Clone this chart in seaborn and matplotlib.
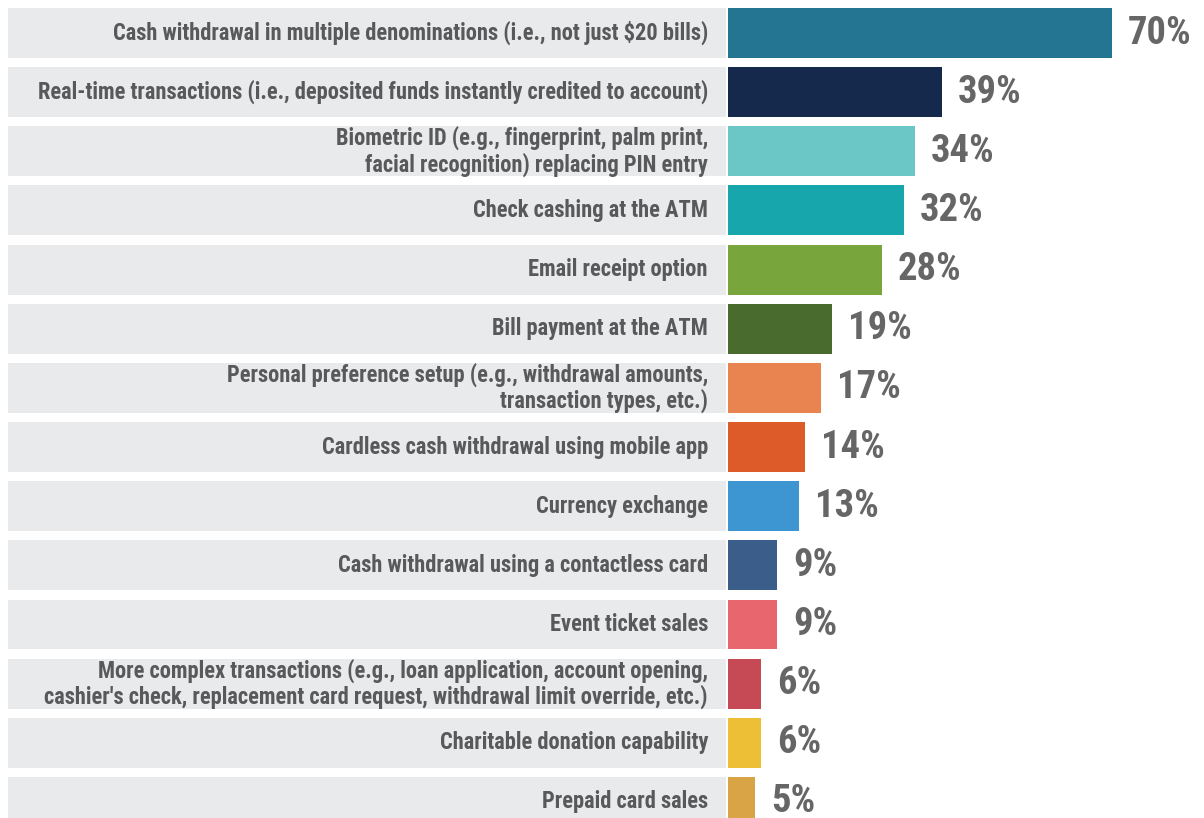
import matplotlib
matplotlib.use("Agg")
import matplotlib.pyplot as plt
import seaborn as sns
import pandas as pd

# chart data
features = [
    "Cash withdrawal in multiple denominations (i.e., not just $20 bills)",
    "Real-time transactions (i.e., deposited funds instantly credited to account)",
    "Biometric ID (e.g., fingerprint, palm print,\nfacial recognition) replacing PIN entry",
    "Check cashing at the ATM",
    "Email receipt option",
    "Bill payment at the ATM",
    "Personal preference setup (e.g., withdrawal amounts,\ntransaction types, etc.)",
    "Cardless cash withdrawal using mobile app",
    "Currency exchange",
    "Cash withdrawal using a contactless card",
    "Event ticket sales",
    "More complex transactions (e.g., loan application, account opening,\ncashier's check, replacement card request, withdrawal limit override, etc.)",
    "Charitable donation capability",
    "Prepaid card sales",
]
percent = [70, 39, 34, 32, 28, 19, 17, 14, 13, 9, 9, 6, 6, 5]
bar_colors = [
    "#237592", "#15294c", "#6bc6c6", "#17a6ab", "#79a53d", "#4a6b2e", "#e9834f",
    "#dc5b28", "#3d95d2", "#3a5d8a", "#e8676f", "#c54a55", "#ecbf37", "#d8a446",
]

df = pd.DataFrame({"feature": features, "pct": percent})

sns.set_theme(style="white")
fonts = ["Roboto Condensed", "Liberation Sans Narrow", "Arial Narrow", "Roboto", "DejaVu Sans"]
plt.rcParams["font.family"] = fonts

W, H = 1204, 818
fig = plt.figure(figsize=(W / 100, H / 100), dpi=100)
ax = fig.add_axes([0, 0, 1, 1])
renderer = fig.canvas.get_renderer()


def fit_size(s, target_px, weight="bold"):
    # pick a font size so the text is target_px wide with whichever font is installed
    t = fig.text(0, 0, s, fontsize=10, fontweight=weight)
    w = t.get_window_extent(renderer).width
    t.remove()
    return 10 * target_px / w


label_fs = fit_size(features[0], 600)
value_fs = fit_size("70%", 64)

# pixel layout -> data units
x0_px = 728.0          # where bars start
px_per_pct = 5.486
row_px = 59.15
first_center_px = 33.0

# gray label boxes behind the category names
box_left = (8 - x0_px) / px_per_pct
box_right = (726 - x0_px) / px_per_pct
ax.barh(range(len(features)), [box_right - box_left] * len(features), left=box_left,
        height=0.845, color="#e9eaec", linewidth=0, zorder=0)

sns.barplot(data=df, y="feature", x="pct", hue="feature", palette=bar_colors,
            orient="h", legend=False, width=0.845, linewidth=0, saturation=1,
            ax=ax, zorder=2)

text_x = (708 - x0_px) / px_per_pct
for i, (name, val) in enumerate(zip(features, percent)):
    ax.text(text_x, i, name, ha="right", va="center", fontsize=label_fs,
            fontweight="bold", color="#58595b", linespacing=1.1, zorder=3)
    ax.text(val + 2.9, i, f"{val}%", ha="left", va="center", fontsize=value_fs,
            fontweight="bold", color="#666666", zorder=3)

ax.set_xlim(-x0_px / px_per_pct, (W - x0_px) / px_per_pct)
ax.set_ylim((H - first_center_px) / row_px, -first_center_px / row_px)
ax.axis("off")

fig.savefig("out.png", dpi=100)
